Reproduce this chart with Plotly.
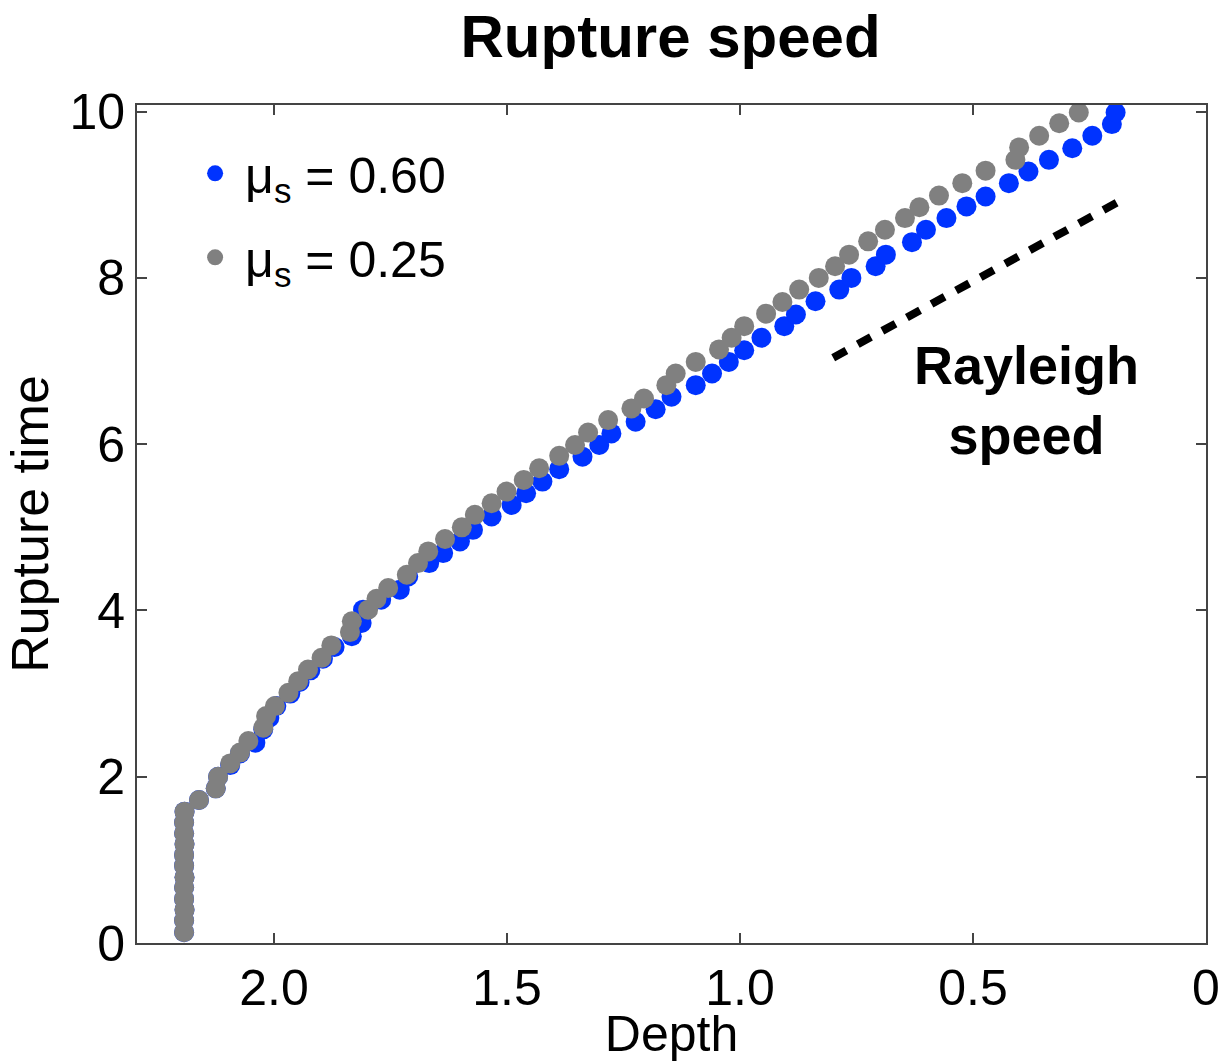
import plotly.graph_objects as go

# ---- data ----
gray_depth = [2.193, 2.193, 2.192, 2.193, 2.193, 2.192, 2.193, 2.193, 2.192, 2.193, 2.193, 2.192,
              2.161, 2.125, 2.120, 2.094, 2.073, 2.055, 2.023, 2.017, 1.998, 1.969, 1.948, 1.927,
              1.898, 1.877, 1.837, 1.833, 1.798, 1.780, 1.755, 1.715, 1.691, 1.669, 1.633, 1.597,
              1.569, 1.533, 1.501, 1.464, 1.431, 1.388, 1.354, 1.326, 1.283, 1.233, 1.206, 1.158,
              1.138, 1.095, 1.045, 1.018, 0.991, 0.944, 0.909, 0.873, 0.831, 0.796, 0.766, 0.725,
              0.689, 0.646, 0.615, 0.573, 0.523, 0.473, 0.409, 0.401, 0.358, 0.315, 0.273]
gray_time = [0.13, 0.27, 0.40, 0.53, 0.67, 0.79, 0.93, 1.06, 1.19, 1.32, 1.45, 1.58,
             1.72, 1.86, 2.00, 2.16, 2.29, 2.43, 2.59, 2.73, 2.85, 3.01, 3.15, 3.29,
             3.43, 3.58, 3.74, 3.87, 4.01, 4.14, 4.27, 4.43, 4.57, 4.71, 4.86, 5.00,
             5.15, 5.29, 5.43, 5.57, 5.71, 5.86, 5.99, 6.14, 6.29, 6.43, 6.55, 6.71,
             6.85, 6.99, 7.14, 7.28, 7.42, 7.57, 7.71, 7.86, 8.00, 8.14, 8.28, 8.44,
             8.58, 8.72, 8.85, 8.99, 9.14, 9.29, 9.42, 9.57, 9.71, 9.86, 9.99]

blue_depth = [2.193, 2.193, 2.192, 2.193, 2.193, 2.192, 2.193, 2.193, 2.192, 2.193, 2.193, 2.192,
              2.161, 2.125, 2.120, 2.094, 2.073, 2.040, 2.023, 2.010, 1.995, 1.965, 1.945, 1.922,
              1.895, 1.870, 1.833, 1.812, 1.809, 1.770, 1.730, 1.712, 1.667, 1.637, 1.601, 1.573,
              1.533, 1.490, 1.459, 1.424, 1.388, 1.338, 1.302, 1.276, 1.224, 1.181, 1.147, 1.095,
              1.060, 1.024, 0.991, 0.954, 0.905, 0.880, 0.838, 0.787, 0.761, 0.709, 0.687, 0.631,
              0.601, 0.557, 0.514, 0.473, 0.423, 0.381, 0.337, 0.287, 0.244, 0.202, 0.194]
blue_time = [0.13, 0.27, 0.40, 0.53, 0.67, 0.79, 0.93, 1.06, 1.19, 1.32, 1.45, 1.58,
             1.72, 1.86, 2.00, 2.14, 2.28, 2.41, 2.57, 2.71, 2.85, 3.00, 3.14, 3.28,
             3.42, 3.56, 3.69, 3.85, 4.01, 4.13, 4.25, 4.41, 4.57, 4.69, 4.83, 4.97,
             5.13, 5.27, 5.41, 5.55, 5.70, 5.85, 5.99, 6.13, 6.27, 6.42, 6.57, 6.71,
             6.85, 6.99, 7.13, 7.28, 7.42, 7.56, 7.72, 7.86, 8.00, 8.14, 8.28, 8.43,
             8.58, 8.72, 8.86, 8.98, 9.14, 9.28, 9.42, 9.56, 9.71, 9.85, 9.99]

rayleigh_depth = [0.80, 0.18]
rayleigh_time = [7.04, 8.94]

x_tickvals = [2.0, 1.5, 1.0, 0.5, 0]
x_ticktext = ["2.0", "1.5", "1.0", "0.5", "0"]
y_tickvals = [0, 2, 4, 6, 8, 10]

FONT = "Liberation Sans, Arial, Helvetica, sans-serif"

fig = go.Figure()
fig.add_trace(go.Scatter(
    x=blue_depth, y=blue_time, mode="markers", name="μ<sub>s</sub> = 0.60", legendgroup="a",
    marker=dict(color="#0033ff", size=20, line=dict(width=0)),
))
fig.add_trace(go.Scatter(
    x=gray_depth, y=gray_time, mode="markers", name="μ<sub>s</sub> = 0.25", legendgroup="b",
    marker=dict(color="#808080", size=20, line=dict(width=0)),
))
fig.add_trace(go.Scatter(
    x=rayleigh_depth, y=rayleigh_time, mode="lines", showlegend=False,
    line=dict(color="black", width=8, dash="15px,13px"),
))

fig.add_annotation(
    x=0.385, y=6.53, xref="x", yref="y", text="<b>Rayleigh<br>speed</b>",
    showarrow=False, font=dict(family=FONT, size=54, color="black"), align="center",
)

axis_common = dict(
    showgrid=False, zeroline=False, showline=True, linecolor="#444444", linewidth=2,
    mirror="ticks", ticks="inside", ticklen=10, tickwidth=1.5, tickcolor="#444444",
    tickfont=dict(family=FONT, size=50, color="black"), automargin=False,
)

fig.update_layout(
    width=1227, height=1062,
    margin=dict(l=137, r=21, t=105, b=119),
    paper_bgcolor="white", plot_bgcolor="white",
    title=dict(text="<b>Rupture speed</b>", x=0.5465, xanchor="center", y=0.966, yanchor="middle",
               font=dict(family=FONT, size=60, color="black")),
    xaxis=dict(range=[2.294, 0], tickvals=x_tickvals, ticktext=x_ticktext,
               title=dict(text="Depth", font=dict(family=FONT, size=50, color="black"), standoff=6),
               **axis_common),
    yaxis=dict(range=[0, 10.08], tickvals=y_tickvals,
               title=dict(text="Rupture time", font=dict(family=FONT, size=52, color="black"), standoff=4),
               **axis_common),
    legend=dict(x=0.045, y=0.965, xanchor="left", yanchor="top", bgcolor="rgba(0,0,0,0)",
                font=dict(family=FONT, size=50, color="black"), itemsizing="trace",
                itemwidth=50, tracegroupgap=16),
    showlegend=True,
)

fig.write_html("out.html")
